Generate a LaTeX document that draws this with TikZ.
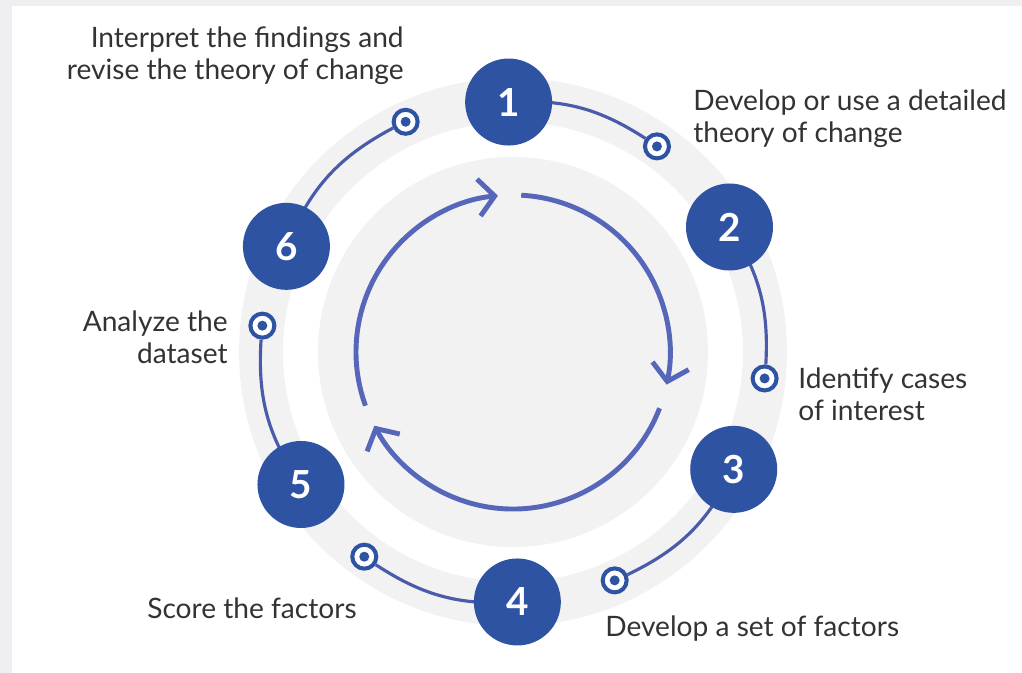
\documentclass[tikz,border=0pt]{standalone}
\usepackage{fontspec}
\setmainfont{Lato}
\usetikzlibrary{arrows.meta}
\definecolor{stepblue}{HTML}{2F53A3}
\definecolor{lineblue}{HTML}{4A5BAA}
\definecolor{arrowblue}{HTML}{5666B9}
\definecolor{pagegray}{HTML}{EFEFF2}
\definecolor{ringgray}{HTML}{F2F2F3}
\definecolor{textgray}{HTML}{333333}

\begin{document}
\begin{tikzpicture}[
	stepnode/.style={circle, fill=stepblue, minimum size=1.74cm, inner sep=0pt, text=white, font=\bfseries\fontsize{22}{22}\selectfont},
	dotnode/.style={circle, draw=stepblue, line width=2.3pt, fill=white, minimum size=0.48cm, inner sep=0pt,
		path picture={\fill[stepblue] (path picture bounding box.center) circle (0.1);}},
	label/.style={text=textgray, font=\fontsize{16}{18.3}\selectfont, inner sep=0pt},
	link/.style={draw=lineblue, line width=1.8pt},
	cycle/.style={draw=arrowblue, line width=2.8pt, -{Straight Barb[length=0.32cm, width=0.74cm]}}
	]
		%\draw [help lines] (-10,-6) grid (10,7);
		%Sfondo
		\fill [pagegray] (-10.26,-6.42) rectangle (10.18,7.04);
		\fill [white] (-10.02,-6.42) rectangle (10.18,6.92);
		\fill [ringgray, even odd rule] (0,0) circle (5.48) (0,0) circle (4.6);
		\fill [ringgray] (0,0) circle (3.9);
		%Frecce interne
		\draw [cycle] (87:3.14) arc [start angle=87, end angle=-12, radius=3.14];
		\draw [cycle] (-21:3.14) arc [start angle=-21, end angle=-152, radius=3.14];
		\draw [cycle] (-160:3.14) arc [start angle=-160, end angle=-264.5, radius=3.14];
		%Passi
		\coordinate (c1) at (91:5);
		\coordinate (c2) at (30:5);
		\coordinate (c3) at (-28:5);
		\coordinate (c4) at (-89:5);
		\coordinate (c5) at (-148:5);
		\coordinate (c6) at (155:5);
		\node [dotnode] (d1) at (55:5.02) {};
		\node [dotnode] (d2) at (-6:5.06) {};
		\node [dotnode] (d3) at (-66:5) {};
		\node [dotnode] (d4) at (-126:5.06) {};
		\node [dotnode] (d5) at (174:5.04) {};
		\node [dotnode] (d6) at (115:5.08) {};
		\draw [link] (c1) to [bend left=18] (d1);
		\draw [link] (c2) to [bend left=18] (d2);
		\draw [link] (c3) to [bend left=19] (d3);
		\draw [link] (c4) to [bend left=18.5] (d4);
		\draw [link] (c5) to [bend left=19] (d5);
		\draw [link] (c6) to [bend left=20] (d6);
		\node [stepnode] (s1) at (c1) {1};
		\node [stepnode] (s2) at (c2) {2};
		\node [stepnode] (s3) at (c3) {3};
		\node [stepnode] (s4) at (c4) {4};
		\node [stepnode] (s5) at (c5) {5};
		\node [stepnode] (s6) at (c6) {6};
		%Testi
		\node [label, anchor=east, align=right] (t6) at (-2.18,5.92) {Interpret the findings and\\revise the theory of change};
		\node [label, anchor=west, align=left] (t1) at (3.6,4.66) {Develop or use a detailed\\theory of change};
		\node [label, anchor=west, align=left] (t2) at (5.7,-0.84) {Identify cases\\of interest};
		\node [label, anchor=west] (t3) at (1.84,-5.54) {Develop a set of factors};
		\node [label, anchor=west] (t4) at (-7.32,-5.12) {Score the factors};
		\node [label, anchor=east, align=right] (t5) at (-5.7,0.3) {Analyze the\\dataset};
	\end{tikzpicture}
\end{document}
